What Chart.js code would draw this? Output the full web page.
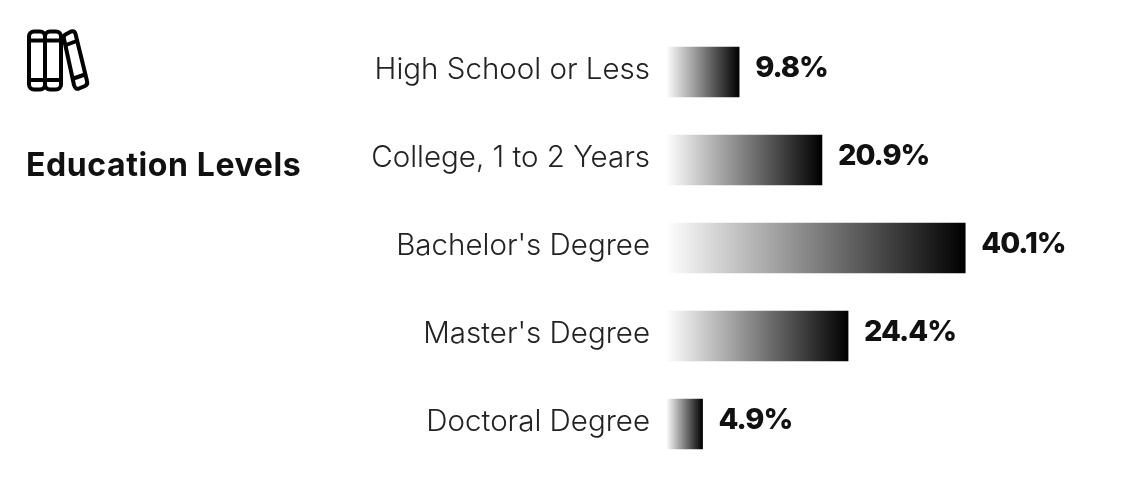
<!DOCTYPE html>
<html>
<head>
<meta charset="utf-8">
<style>
  html, body { margin: 0; padding: 0; background: #fff; }
  #wrap { position: relative; width: 1122px; height: 488px; overflow: hidden; }
  #title { position: absolute; left: 26px; top: 145px; font: 700 32px Inter, sans-serif; letter-spacing: 0.6px; color: #111; white-space: nowrap; }
  #icon { position: absolute; left: 20px; top: 22px; }
</style>
<script src="https://cdn.jsdelivr.net/npm/chart.js@4/dist/chart.umd.min.js"></script>
</head>
<body>
<div id="wrap">
  <canvas id="chart" width="1122" height="488"></canvas>
  <svg id="icon" width="76" height="76" fill="none" stroke="#000" stroke-width="4" stroke-linejoin="round">
    <rect x="9" y="9.5" width="16" height="58" rx="5"/>
    <rect x="25" y="9.5" width="16" height="58" rx="5"/>
    <path d="M9 18.5H41M9 58H41"/>
    <path d="M45.5 12.5Q43 14 44 17L54 63Q55.5 68 59 66.5L65 64Q68 62.5 67 59L55.5 12Q54.5 8.5 51 9.5Z"/>
    <path d="M46 23L58 18.5M52 57L65 52.5"/>
  </svg>
  <div id="title">Education Levels</div>
</div>
<script>
const categories = ['High School or Less', 'College, 1 to 2 Years', "Bachelor's Degree", "Master's Degree", 'Doctoral Degree'];
const shares = [9.8, 20.9, 40.1, 24.4, 4.9];
const shareLabels = ['9.8%', '20.9%', '40.1%', '24.4%', '4.9%'];

function barGradient(ctx) {
  const chart = ctx.chart;
  const xScale = chart.scales.x;
  if (!xScale || !chart.chartArea) return '#000';
  const g = chart.ctx.createLinearGradient(xScale.getPixelForValue(0), 0, xScale.getPixelForValue(ctx.raw), 0);
  g.addColorStop(0, 'rgba(0,0,0,0)');
  g.addColorStop(1, 'rgba(0,0,0,1)');
  return g;
}

// value labels to the right of the bars, tick labels sit a little above bar centre
const valueLabels = {
  id: 'valueLabels',
  afterLayout(chart) {
    chart.scales.y.getLabelItems().forEach(item => {
      item.options.translation[1] -= 2;
    });
  },
  afterDatasetsDraw(chart) {
    const c = chart.ctx;
    c.save();
    c.font = '800 29px Inter, sans-serif';
    c.letterSpacing = '-1px';
    c.fillStyle = '#111';
    c.textBaseline = 'middle';
    chart.getDatasetMeta(0).data.forEach((bar, i) => {
      c.fillText(shareLabels[i], bar.x + 16, bar.y - 4);
    });
    c.restore();
  }
};

new Chart(document.getElementById('chart'), {
  type: 'bar',
  data: {
    labels: categories,
    datasets: [{ data: shares, backgroundColor: barGradient, barThickness: 50 }]
  },
  options: {
    indexAxis: 'y',
    responsive: false,
    animation: false,
    layout: { padding: { top: 28, right: 15, bottom: 20, left: 0 } },
    plugins: { legend: { display: false }, tooltip: { enabled: false } },
    scales: {
      x: { display: false, min: 0, max: 59.1 },
      y: {
        afterFit(scale) {
          scale.width = 666;
          scale.paddingTop = 0;
          scale.paddingBottom = 0;
        },
        border: { display: false },
        grid: { display: false, drawTicks: false },
        ticks: {
          padding: 16,
          color: '#222',
          font: { family: 'Inter', size: 29.5, weight: 300 }
        }
      }
    }
  },
  plugins: [valueLabels]
});
</script>
</body>
</html>
